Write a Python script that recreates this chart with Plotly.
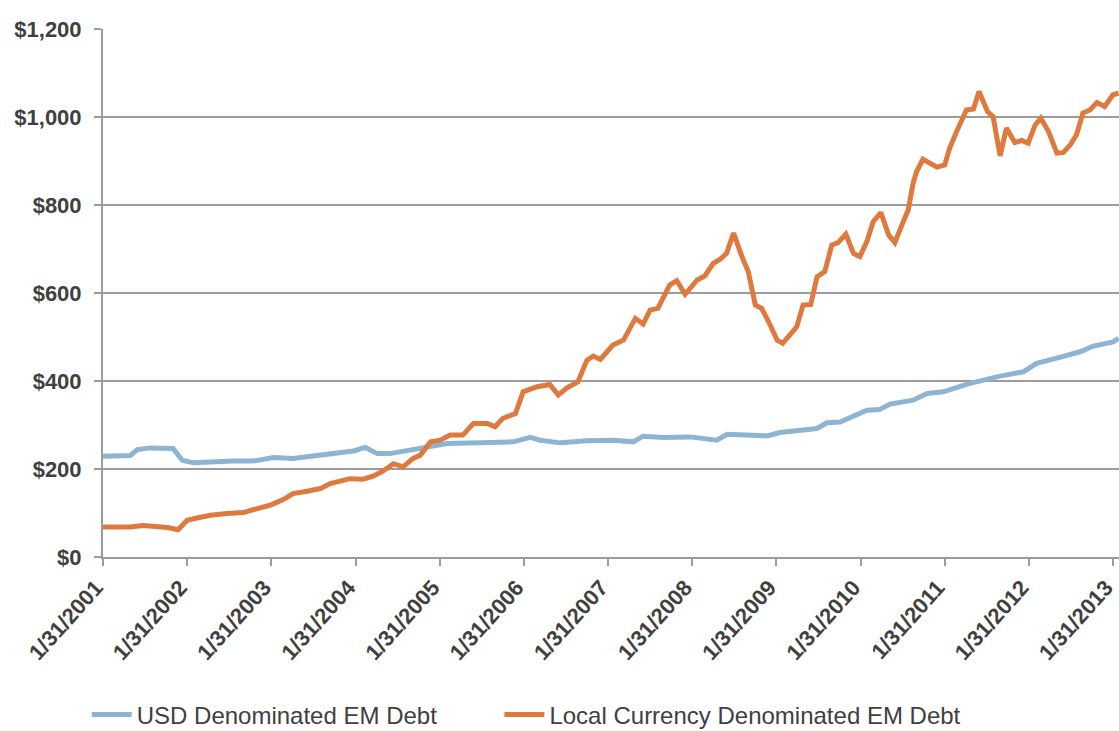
import plotly.graph_objects as go

# months since 1/31/2001 (Excel-style monthly category positions)
usd_months = [0, 3.9, 4.9, 6.7, 10.0, 11.3, 12.9, 15.3, 18.6, 21.4, 24.3, 27.1, 30.0, 32.8,
              35.7, 37.4, 39.1, 40.9, 42.4, 43.8, 46.6, 49.1, 53.8, 58.5, 60.9, 62.3, 65.2,
              69.0, 72.7, 75.6, 77.0, 79.9, 83.7, 87.5, 89.0, 91.8, 94.7, 96.5, 101.8, 103.2,
              105.1, 108.9, 110.7, 112.2, 115.5, 117.5, 119.8, 123.2, 126.0, 127.9, 131.2,
              133.1, 136.4, 139.3, 141.2, 144.0, 144.8]
usd_values = [229, 230.7, 244, 248, 246.6, 220, 214, 216, 218.4, 218, 226, 224, 229, 235,
              241, 249, 235, 235, 239, 242.8, 250, 258, 259.4, 261.7, 271.7, 265.5, 259.4,
              264, 265.5, 261.7, 274.6, 271.7, 273, 265.5, 279, 278.5, 275.3, 283, 292, 305,
              307, 333.8, 335, 347.4, 356.5, 371.8, 375.4, 393, 404, 411, 421,
              440, 453.7, 466.4, 479.4, 489, 497]

local_months = [0, 1.0, 3.9, 5.7, 7.2, 9.2, 10.7, 12.0, 13.4, 15.3, 17.7, 20.0, 22.0, 23.8,
                25.7, 27.1, 29.1, 31.0, 32.4, 33.8, 35.2, 37.1, 38.5, 39.9, 41.4, 42.8, 44.2,
                45.2, 46.7, 48.1, 49.5, 51.3, 52.8, 54.8, 55.9, 57.0, 58.8, 59.9, 61.9, 63.7,
                64.9, 66.2, 67.7, 69.0, 69.9, 70.9, 72.7, 74.2, 75.9, 77.0, 78.0, 79.1, 80.8,
                81.8, 83.0, 84.7, 85.8, 87.0, 88.0, 88.9, 89.9, 91.1, 92.0, 93.0, 93.9, 94.9,
                96.1, 96.9, 97.9, 98.9, 99.8, 100.9, 101.8, 102.9, 103.9, 104.8, 105.9, 107.0,
                107.9, 108.9, 109.8, 110.9, 112.0, 112.9, 113.9, 114.8, 115.5, 116.0, 116.9,
                117.9, 118.9, 120.0, 120.7, 121.7, 122.6, 123.1, 124.1, 124.9, 126.1, 126.9,
                127.9, 128.8, 130.0, 131.0, 131.9, 132.9, 133.7, 134.8, 136.0, 136.9, 137.9,
                138.8, 139.7, 140.7, 141.7, 142.8, 144.0, 144.8]
local_values = [68, 67.6, 68, 71.4, 70, 67, 62, 83.5, 88.7, 95, 98.7, 101, 110, 117.6,
                130.6, 144, 149.5, 155.6, 167, 172, 178, 176.8, 183.6, 195, 212, 205, 224,
                231, 261.7, 265.5, 277, 277, 303.5, 303.5, 296, 315, 326, 375.4, 387, 392,
                368, 385, 398, 447.5, 456.6, 449, 481.7, 493, 542.4, 529.5, 561, 565, 618,
                628, 597, 629.6, 638.7, 667.6, 676.7, 690, 736, 682.6, 648.5, 572.7, 565, 534.7,
                493, 485.6, 504, 523, 572.7, 574, 637, 648.5, 709, 714.5, 734, 690,
                682.6, 716.7, 762, 782.7, 732, 714.5, 754.7, 788.8, 849.6, 876, 904,
                895, 886, 891, 929, 967, 1001, 1016, 1018, 1058, 1012.5, 1001,
                911.7, 974.7, 942, 946.6, 940.6, 982, 997.5, 967, 918, 919, 936.7,
                959.5, 1009, 1016, 1033, 1024, 1050.5, 1054]

tick_labels = ["1/31/2001", "1/31/2002", "1/31/2003", "1/31/2004", "1/31/2005",
               "1/31/2006", "1/31/2007", "1/31/2008", "1/31/2009", "1/31/2010",
               "1/31/2011", "1/31/2012", "1/31/2013"]
y_ticks = [0, 200, 400, 600, 800, 1000, 1200]
y_tick_labels = ["$0", "$200", "$400", "$600", "$800", "$1,000", "$1,200"]

series_names = ["USD Denominated EM Debt", "Local Currency Denominated EM Debt"]

BLUE = "#8EB4D4"
ORANGE = "#DF7A3E"
GRID = "#9C9C9C"
TXT = "#404040"
FONT = "Liberation Sans, Arial, sans-serif"

fig = go.Figure()
fig.add_trace(go.Scatter(x=usd_months, y=usd_values, mode="lines", name=series_names[0],
                         line=dict(color=BLUE, width=5), legend="legend"))
fig.add_trace(go.Scatter(x=local_months, y=local_values, mode="lines", name=series_names[1],
                         line=dict(color=ORANGE, width=5), legend="legend2"))

legend_common = dict(orientation="h", xref="container", yref="container",
                     xanchor="left", yanchor="middle", y=0.0219,
                     font=dict(family=FONT, size=24, color=TXT),
                     itemwidth=40, bgcolor="rgba(0,0,0,0)")

fig.update_layout(
    width=1119, height=731,
    margin=dict(l=103, r=0, t=29, b=174, autoexpand=False),
    paper_bgcolor="white", plot_bgcolor="white",
    showlegend=True,
    legend=dict(x=0.0775, **legend_common),
    legend2=dict(x=0.4463, **legend_common),
    font=dict(family=FONT, color=TXT),
)
fig.update_xaxes(
    range=[0, 144.85], tickmode="array",
    tickvals=[12 * i for i in range(len(tick_labels))], ticktext=tick_labels,
    tickangle=-48, tickfont=dict(size=22, weight="bold", color=TXT),
    showgrid=False, zeroline=False, automargin=False,
    showline=True, linecolor=GRID, linewidth=2,
    ticks="outside", ticklen=7, tickwidth=2, tickcolor=GRID,
    ticklabelstandoff=0, ticklabelshift=-7, ticklabeloverflow="allow",
)
fig.update_yaxes(
    range=[0, 1200], tickmode="array", tickvals=y_ticks, ticktext=y_tick_labels,
    tickfont=dict(size=22, weight="bold", color=TXT),
    showgrid=True, gridcolor=GRID, gridwidth=2, automargin=False,
    zeroline=False, showline=True, linecolor=GRID, linewidth=2,
    ticks="outside", ticklen=7, tickwidth=2, tickcolor=GRID,
    ticklabelstandoff=8,
)

fig.write_html("out.html", config={"displayModeBar": False},
               post_script="document.body.style.margin='0';")
